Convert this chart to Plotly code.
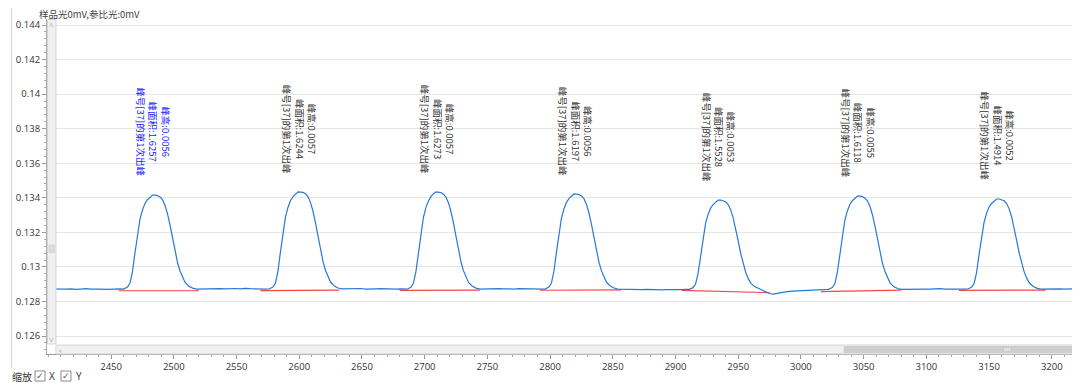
import plotly.graph_objects as go

# ---------------- data ----------------
base0_x = [2398, 2402, 2406, 2410, 2414, 2418, 2422, 2426, 2430, 2434, 2438, 2442, 2446, 2450, 2454, 2457]
base0_y = [0.12873, 0.12872, 0.12874, 0.12871, 0.12872, 0.12873, 0.12870, 0.12872, 0.12874, 0.12871,
           0.12873, 0.12872, 0.12870, 0.12872, 0.12871, 0.12873]

peak1_x = [2460, 2463, 2465, 2467, 2469, 2471, 2473, 2475, 2477, 2479, 2481, 2483, 2485, 2487,
           2489, 2491, 2493, 2495, 2497, 2499, 2501, 2503, 2505, 2507, 2509, 2512, 2515, 2518]
peak1_y = [0.12872, 0.12883, 0.12905, 0.12970, 0.13079, 0.13188, 0.13275, 0.13329, 0.13367, 0.13389,
           0.13405, 0.13416, 0.13415, 0.13413, 0.13405, 0.13389, 0.13356, 0.13307, 0.13242, 0.13166,
           0.13090, 0.13024, 0.12975, 0.12937, 0.12910, 0.12888, 0.12877, 0.12871]

base1_x = [2521, 2525, 2529, 2533, 2537, 2541, 2545, 2549, 2553, 2557, 2561, 2565, 2569, 2573]
base1_y = [0.12872, 0.12870, 0.12873, 0.12872, 0.12874, 0.12873, 0.12876, 0.12875, 0.12873, 0.12876,
           0.12874, 0.12872, 0.12873, 0.12871]

peak2_x = [2576, 2579, 2581, 2583, 2585, 2587, 2589, 2591, 2593, 2595, 2597, 2599, 2601, 2603,
           2605, 2607, 2609, 2611, 2613, 2615, 2617, 2619, 2621, 2623, 2625, 2628, 2631, 2634]
peak2_y = [0.12872, 0.12883, 0.12906, 0.12973, 0.13086, 0.13198, 0.13288, 0.13344, 0.13383, 0.13406,
           0.13423, 0.13434, 0.13433, 0.13431, 0.13423, 0.13406, 0.13372, 0.13322, 0.13254, 0.13175,
           0.13097, 0.13029, 0.12979, 0.12939, 0.12911, 0.12889, 0.12878, 0.12873]

base2_x = [2637, 2641, 2645, 2649, 2653, 2657, 2661, 2665, 2669, 2673, 2677, 2681, 2684]
base2_y = [0.12874, 0.12872, 0.12873, 0.12875, 0.12872, 0.12871, 0.12873, 0.12874, 0.12872, 0.12870,
           0.12872, 0.12873, 0.12871]

peak3_x = [2686, 2689, 2691, 2693, 2695, 2697, 2699, 2701, 2703, 2705, 2707, 2709, 2711, 2713,
           2715, 2717, 2719, 2721, 2723, 2725, 2727, 2729, 2731, 2733, 2735, 2738, 2741, 2744]
peak3_y = [0.12871, 0.12882, 0.12905, 0.12971, 0.13083, 0.13196, 0.13287, 0.13343, 0.13382, 0.13407,
           0.13424, 0.13434, 0.13434, 0.13430, 0.13421, 0.13404, 0.13370, 0.13320, 0.13252, 0.13173,
           0.13095, 0.13027, 0.12977, 0.12938, 0.12910, 0.12888, 0.12877, 0.12872]

base3_x = [2747, 2751, 2755, 2759, 2763, 2767, 2771, 2775, 2779, 2783, 2787, 2791, 2794]
base3_y = [0.12873, 0.12871, 0.12872, 0.12874, 0.12873, 0.12871, 0.12872, 0.12874, 0.12873, 0.12871,
           0.12872, 0.12873, 0.12872]

peak4_x = [2796, 2799, 2801, 2803, 2805, 2807, 2809, 2811, 2813, 2815, 2817, 2819, 2821, 2823,
           2825, 2827, 2829, 2831, 2833, 2835, 2837, 2839, 2841, 2843, 2845, 2848, 2851, 2854]
peak4_y = [0.12872, 0.12883, 0.12905, 0.12971, 0.13081, 0.13191, 0.13279, 0.13334, 0.13372, 0.13395,
           0.13411, 0.13422, 0.13421, 0.13419, 0.13411, 0.13395, 0.13362, 0.13312, 0.13246, 0.13169,
           0.13092, 0.13026, 0.12977, 0.12938, 0.12911, 0.12889, 0.12878, 0.12872]

base4_x = [2857, 2861, 2865, 2869, 2873, 2877, 2881, 2885, 2889, 2893, 2897, 2901, 2905, 2908]
base4_y = [0.12871, 0.12872, 0.12870, 0.12871, 0.12869, 0.12870, 0.12868, 0.12869, 0.12867, 0.12869,
           0.12868, 0.12867, 0.12869, 0.12870]

peak5_x = [2911, 2914, 2916, 2918, 2920, 2922, 2924, 2926, 2928, 2930, 2932, 2934, 2936, 2938,
           2940, 2942, 2944, 2946, 2948, 2950, 2952, 2954, 2956, 2958, 2960, 2963, 2966, 2969]
peak5_y = [0.12870, 0.12880, 0.12901, 0.12963, 0.13066, 0.13170, 0.13253, 0.13304, 0.13340, 0.13361,
           0.13377, 0.13387, 0.13387, 0.13384, 0.13377, 0.13361, 0.13330, 0.13284, 0.13222, 0.13149,
           0.13077, 0.13015, 0.12968, 0.12932, 0.12906, 0.12886, 0.12875, 0.12866]

base5_x = [2972, 2975, 2978, 2981, 2985, 2989, 2993, 2997, 3001, 3005, 3009, 3013, 3017, 3020]
base5_y = [0.12855, 0.12846, 0.12843, 0.12848, 0.12853, 0.12857, 0.12860, 0.12862, 0.12864, 0.12866,
           0.12866, 0.12868, 0.12869, 0.12870]

peak6_x = [3022, 3025, 3027, 3029, 3031, 3033, 3035, 3037, 3039, 3041, 3043, 3045, 3047, 3049,
           3051, 3053, 3055, 3057, 3059, 3061, 3063, 3065, 3067, 3069, 3071, 3074, 3077, 3080]
peak6_y = [0.12870, 0.12881, 0.12902, 0.12967, 0.13075, 0.13183, 0.13270, 0.13324, 0.13361, 0.13383,
           0.13399, 0.13410, 0.13410, 0.13407, 0.13399, 0.13383, 0.13351, 0.13302, 0.13237, 0.13162,
           0.13086, 0.13021, 0.12973, 0.12935, 0.12908, 0.12886, 0.12875, 0.12870]

base6_x = [3083, 3087, 3091, 3095, 3099, 3103, 3107, 3111, 3115, 3119, 3123, 3127, 3131]
base6_y = [0.12871, 0.12872, 0.12870, 0.12873, 0.12872, 0.12871, 0.12873, 0.12874, 0.12872, 0.12871,
           0.12873, 0.12872, 0.12871]

peak7_x = [3133, 3136, 3138, 3140, 3142, 3144, 3146, 3148, 3150, 3152, 3154, 3156, 3158, 3160,
           3162, 3164, 3166, 3168, 3170, 3172, 3174, 3176, 3178, 3180, 3182, 3185, 3188, 3191]
peak7_y = [0.12872, 0.12882, 0.12903, 0.12966, 0.13070, 0.13174, 0.13258, 0.13310, 0.13346, 0.13367,
           0.13383, 0.13393, 0.13393, 0.13390, 0.13383, 0.13367, 0.13336, 0.13289, 0.13226, 0.13153,
           0.13080, 0.13018, 0.12971, 0.12935, 0.12908, 0.12888, 0.12877, 0.12872]

base7_x = [3194, 3198, 3202, 3206, 3210, 3214, 3218, 3222, 3226, 3230]
base7_y = [0.12873, 0.12872, 0.12874, 0.12873, 0.12872, 0.12874, 0.12873, 0.12872, 0.12873, 0.12872]

# red baseline segments per peak
red_x0 = [2456, 2569, 2680, 2792, 2905, 3016, 3126]
red_x1 = [2520, 2632, 2744, 2857, 2975, 3080, 3195]
red_y0 = [0.12862, 0.12863, 0.12864, 0.12865, 0.12864, 0.12857, 0.12864]
red_y1 = [0.12862, 0.12866, 0.12866, 0.12867, 0.12851, 0.12866, 0.12866]

# peak labels
peak_x = [2484, 2600, 2710, 2820, 2935, 3046, 3157]
peak_top = [0.13416, 0.13434, 0.13434, 0.13422, 0.13387, 0.13410, 0.13393]
peak_area = ["1.6257", "1.6244", "1.6273", "1.6197", "1.5528", "1.6118", "1.4914"]
peak_height = ["0.0056", "0.0057", "0.0057", "0.0056", "0.0053", "0.0055", "0.0052"]
peak_name = "峰号[37]的第1次出峰"

x_ticks = [2450, 2500, 2550, 2600, 2650, 2700, 2750, 2800, 2850, 2900, 2950, 3000, 3050, 3100, 3150, 3200]
x_ticktext = [str(v) for v in x_ticks]
y_ticks = [0.126, 0.128, 0.130, 0.132, 0.134, 0.136, 0.138, 0.140, 0.142, 0.144]
y_ticktext = ["0.126", "0.128", "0.13", "0.132", "0.134", "0.136", "0.138", "0.14", "0.142", "0.144"]

title_text = "样品光0mV,参比光:0mV"

# ---------------- figure ----------------
sig_x = (base0_x + peak1_x + base1_x + peak2_x + base2_x + peak3_x + base3_x + peak4_x + base4_x
         + peak5_x + base5_x + peak6_x + base6_x + peak7_x + base7_x)
sig_y = (base0_y + peak1_y + base1_y + peak2_y + base2_y + peak3_y + base3_y + peak4_y + base4_y
         + peak5_y + base5_y + peak6_y + base6_y + peak7_y + base7_y)

red_x, red_y = [], []
for a, b, c, d in zip(red_x0, red_x1, red_y0, red_y1):
    red_x += [a, b, None]
    red_y += [c, d, None]

# page offset of the plot div (default body margin)
OFF = 8
W, H = 1080, 383
# plot area in page pixels: x 44..1080, y 19..354
L, R, T, B = 44 - OFF, 8, 19 - OFF, H - (354 - OFF)


def px(v):
    # page pixel -> paper x
    return (v - 44) / 1036


def py(v):
    # page pixel -> paper y
    return (354 - v) / 335


def paper_text(xp, yp, text, size=10, color="#333", family=None, xanchor="center"):
    f = dict(size=size, color=color)
    if family:
        f["family"] = family
    return dict(x=px(xp), y=py(yp), xref="paper", yref="paper", showarrow=False,
                xanchor=xanchor, yanchor="middle", text=text, font=f, borderpad=0)


fig = go.Figure()
fig.add_trace(go.Scatter(x=red_x, y=red_y, mode="lines",
                         line=dict(color="rgb(245,70,70)", width=1.2), hoverinfo="skip"))
fig.add_trace(go.Scatter(x=sig_x, y=sig_y, mode="lines",
                         line=dict(color="rgb(40,120,215)", width=1.2), hoverinfo="skip"))

annotations = []
for i, (xv, yv, ar, ht) in enumerate(zip(peak_x, peak_top, peak_area, peak_height)):
    annotations.append(dict(
        x=xv, y=yv, xref="x", yref="y", yshift=63, showarrow=False,
        textangle=90, xanchor="center", yanchor="middle", align="center",
        text=f"峰高:{ht}<br>峰面积:{ar}<br>{peak_name}",
        font=dict(size=9.5, color="#1a1aff" if i == 0 else "#333333",
                  family="Noto Sans CJK SC")))

annotations.append(paper_text(35, 14, title_text, size=9.5, color="#444",
                              family="Noto Sans CJK SC", xanchor="left"))
# scrollbar arrows
annotations.append(paper_text(48.8, 24, "˄", size=8, color="#888"))
annotations.append(paper_text(48.8, 339, "˅", size=8, color="#888"))
annotations.append(paper_text(57.5, 349.5, "‹", size=8, color="#888"))
# zoom checkboxes
annotations.append(paper_text(8, 376, "缩放", size=10, family="Noto Sans CJK SC", xanchor="left"))
annotations.append(paper_text(45, 376, "X", size=10, xanchor="left"))
annotations.append(paper_text(72, 376, "Y", size=10, xanchor="left"))
for cx in (37, 63):
    annotations.append(paper_text(cx, 375.5, "✓", size=9, color="#555", family="DejaVu Sans"))

shapes = [
    # outer left border
    dict(type="line", xref="paper", yref="paper", x0=px(8.5), x1=px(8.5), y0=py(8), y1=py(368),
         line=dict(color="#d0d0d0", width=1)),
    # vertical scrollbar
    dict(type="rect", xref="paper", yref="paper", x0=px(44.5), x1=px(53), y0=py(344), y1=py(19.5),
         fillcolor="#f0f0f0", line=dict(color="#d6d6d6", width=1), layer="above"),
    dict(type="rect", xref="paper", yref="paper", x0=px(46), x1=px(51.5), y0=py(252.5), y1=py(245),
         fillcolor="#dcdcdc", line=dict(color="#c8c8c8", width=0.5), layer="above"),
    # horizontal scrollbar
    dict(type="rect", xref="paper", yref="paper", x0=px(53), x1=px(1081), y0=py(354), y1=py(345),
         fillcolor="#f0f0f0", line=dict(color="#d6d6d6", width=1), layer="above"),
    dict(type="rect", xref="paper", yref="paper", x0=px(843), x1=px(1081), y0=py(353), y1=py(346),
         fillcolor="#cdcdcd", line=dict(width=0), layer="above"),
    # checkboxes
    dict(type="rect", xref="paper", yref="paper", x0=px(32), x1=px(42), y0=py(381), y1=py(371),
         fillcolor="rgba(0,0,0,0)", line=dict(color="#888", width=1), layer="below"),
    dict(type="rect", xref="paper", yref="paper", x0=px(58), x1=px(68), y0=py(381), y1=py(371),
         fillcolor="rgba(0,0,0,0)", line=dict(color="#888", width=1), layer="below"),
]
for gx in (1005, 1007, 1009):
    shapes.append(dict(type="line", xref="paper", yref="paper", x0=px(gx), x1=px(gx),
                       y0=py(351), y1=py(348), line=dict(color="#f4f4f4", width=1), layer="above"))

fig.update_layout(
    width=W, height=H,
    margin=dict(l=L, r=R, t=T, b=B, pad=0),
    plot_bgcolor="white", paper_bgcolor="white",
    showlegend=False,
    font=dict(family="Open Sans, Noto Sans CJK SC", size=10, color="#333"),
    xaxis=dict(range=[2398.9, 3222.5], tickvals=x_ticks, ticktext=x_ticktext,
               ticks="outside", ticklen=4, tickcolor="#999", showline=True, linecolor="#999",
               showgrid=False, zeroline=False, tickfont=dict(size=9.5, color="#333"),
               minor=dict(dtick=10, tick0=2400, ticks="outside", ticklen=2, tickcolor="#aaa",
                          showgrid=False)),
    yaxis=dict(range=[0.12496, 0.144347], tickvals=y_ticks, ticktext=y_ticktext,
               ticks="outside", ticklen=4, tickcolor="#999", showline=True, linecolor="#aaa",
               showgrid=True, gridcolor="#e6e6e6", gridwidth=1, zeroline=False,
               tickfont=dict(size=9.5, color="#333"),
               minor=dict(dtick=0.0004, tick0=0.126, ticks="outside", ticklen=2, tickcolor="#aaa",
                          showgrid=False)),
    annotations=annotations,
    shapes=shapes,
)

fig.write_html("out.html")
